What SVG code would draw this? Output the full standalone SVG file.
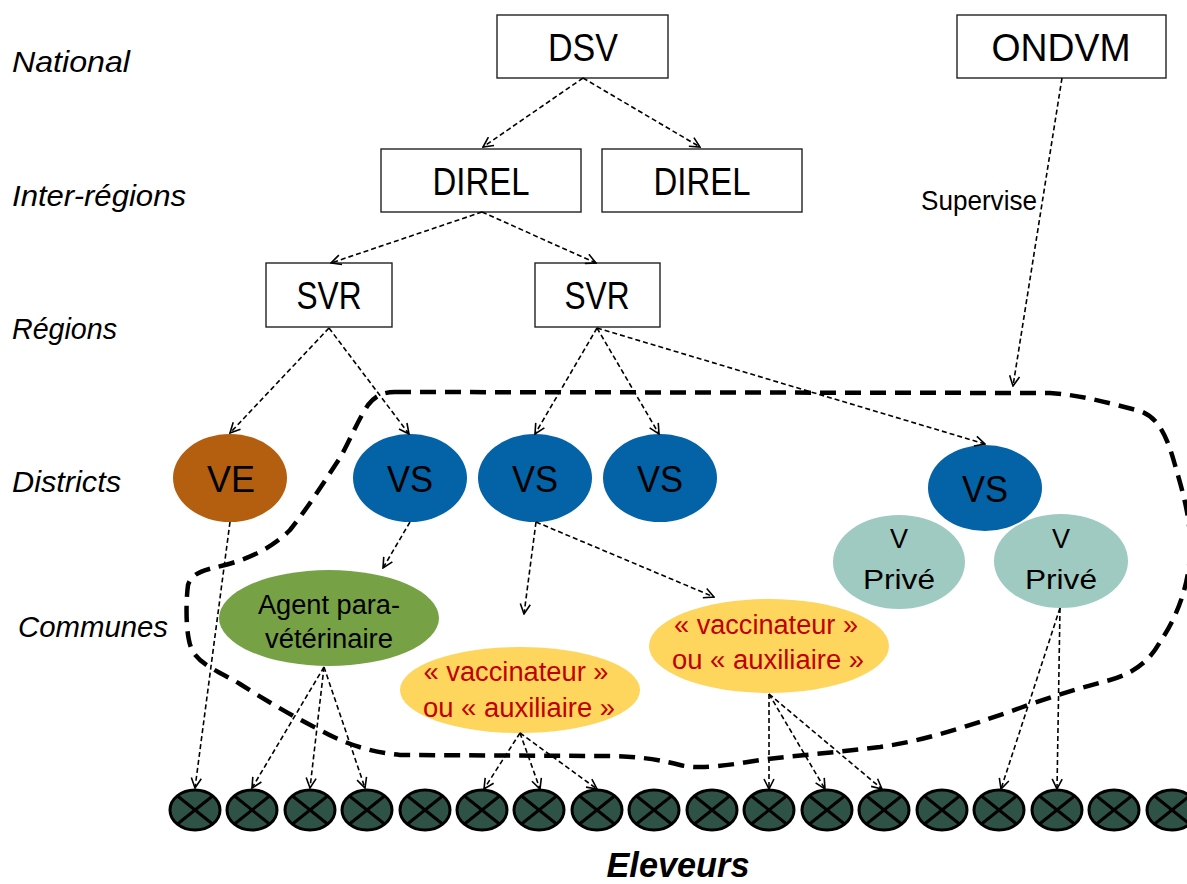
<svg xmlns="http://www.w3.org/2000/svg" xmlns:xlink="http://www.w3.org/1999/xlink" width="1187" height="884" viewBox="0 0 1187 884">
<style>
  .lbl { font-family: "Liberation Sans", Arial, sans-serif; font-style: italic; font-size: 30px; fill: #000; }
  .box { fill: #fff; stroke: #222; stroke-width: 1.4; }
  .bt { font-family: "Liberation Sans", Arial, sans-serif; font-size: 38px; fill: #000; text-anchor: middle; }
  .et { font-family: "Liberation Sans", Arial, sans-serif; font-size: 37px; fill: #000; text-anchor: middle; }
  .st { font-family: "Liberation Sans", Arial, sans-serif; font-size: 27px; fill: #000; text-anchor: middle; }
  .rt { font-family: "Liberation Sans", Arial, sans-serif; font-size: 27px; fill: #c00000; text-anchor: middle; }
  .conn line { stroke: #000; stroke-width: 1.6; stroke-dasharray: 5 3; fill: none; marker-end: url(#arr); }
  .bound { fill: none; stroke: #000; stroke-width: 4.5; stroke-dasharray: 16 9; }
</style>
<defs>
  <marker id="arr" viewBox="0 0 12 12" refX="11" refY="6" markerWidth="12" markerHeight="12" markerUnits="userSpaceOnUse" orient="auto">
    <path d="M1,1 L11,6 L1,11" fill="none" stroke="#000" stroke-width="1.6"/>
  </marker>
  <g id="farm">
    <ellipse cx="0" cy="0" rx="25" ry="20" fill="#2e5346" stroke="#000" stroke-width="3"/>
    <line x1="-17.5" y1="-14" x2="17.5" y2="14" stroke="#000" stroke-width="3"/>
    <line x1="-17.5" y1="14" x2="17.5" y2="-14" stroke="#000" stroke-width="3"/>
  </g>
</defs>
<rect width="1187" height="884" fill="#fff"/>

<g id="level-labels">
  <text class="lbl" x="12" y="72" textLength="118" lengthAdjust="spacingAndGlyphs">National</text>
  <text class="lbl" x="12" y="206" textLength="174" lengthAdjust="spacingAndGlyphs">Inter-régions</text>
  <text class="lbl" x="12" y="339" textLength="105" lengthAdjust="spacingAndGlyphs">Régions</text>
  <text class="lbl" x="12" y="492" textLength="109" lengthAdjust="spacingAndGlyphs">Districts</text>
  <text class="lbl" x="18" y="637" textLength="150" lengthAdjust="spacingAndGlyphs">Communes</text>
</g>

<g id="boundary">
  <path class="bound" d="M395,392 L1050,393 C1080,395 1105,402 1140,411 C1160,418 1168,440 1175,465 C1182,490 1192,520 1190,555 C1188,590 1175,620 1160,642 C1150,660 1135,673 1110,680 C1080,688 1050,697 1020,708 C980,722 930,740 880,747 C840,752 800,755 760,760 C730,765 700,770 680,765 C650,757 625,756 600,756 L400,755 C370,752 345,744 320,730 C290,715 262,698 240,684 C220,672 200,665 192,650 C185,635 186,600 188,585 C192,572 205,570 225,565 C255,557 275,545 290,530 C310,505 325,480 340,458 C350,440 358,420 368,405 C375,396 383,392 395,392 Z"/>
</g>

<g id="n-dsv"><rect class="box" x="497" y="15" width="171" height="63"/><text class="bt" x="583" y="61" textLength="70" lengthAdjust="spacingAndGlyphs">DSV</text></g>
<g id="n-ondvm"><rect class="box" x="957" y="15" width="209" height="63"/><text class="bt" x="1061" y="61" textLength="139" lengthAdjust="spacingAndGlyphs">ONDVM</text></g>
<g id="n-direl1"><rect class="box" x="381" y="149" width="200" height="63"/><text class="bt" x="481" y="195" textLength="97" lengthAdjust="spacingAndGlyphs">DIREL</text></g>
<g id="n-direl2"><rect class="box" x="602" y="149" width="200" height="63"/><text class="bt" x="702" y="195" textLength="97" lengthAdjust="spacingAndGlyphs">DIREL</text></g>
<g id="n-svr1"><rect class="box" x="266" y="263" width="126" height="64"/><text class="bt" x="329" y="309" textLength="65" lengthAdjust="spacingAndGlyphs">SVR</text></g>
<g id="n-svr2"><rect class="box" x="535" y="263" width="125" height="64"/><text class="bt" x="597" y="309" textLength="65" lengthAdjust="spacingAndGlyphs">SVR</text></g>

<g id="n-ve"><ellipse cx="230" cy="478" rx="57" ry="44" fill="#b45f10"/><text class="et" x="231" y="492" textLength="48" lengthAdjust="spacingAndGlyphs">VE</text></g>
<g id="n-vs1"><ellipse cx="410" cy="478" rx="57" ry="44" fill="#0462a6"/><text class="et" x="410" y="492" textLength="46" lengthAdjust="spacingAndGlyphs">VS</text></g>
<g id="n-vs2"><ellipse cx="535" cy="478" rx="57" ry="44" fill="#0462a6"/><text class="et" x="535" y="492" textLength="46" lengthAdjust="spacingAndGlyphs">VS</text></g>
<g id="n-vs3"><ellipse cx="660" cy="478" rx="57" ry="44" fill="#0462a6"/><text class="et" x="660" y="492" textLength="46" lengthAdjust="spacingAndGlyphs">VS</text></g>
<g id="n-vs4"><ellipse cx="985" cy="488" rx="57" ry="43" fill="#0462a6"/><text class="et" x="985" y="502" textLength="46" lengthAdjust="spacingAndGlyphs">VS</text></g>
<g id="n-vp1"><ellipse cx="899" cy="562" rx="66" ry="47" fill="#9ecac2"/><text class="st" x="899" y="548" font-size="31">V</text><text class="st" x="899" y="589" font-size="31" textLength="72" lengthAdjust="spacingAndGlyphs">Privé</text></g>
<g id="n-vp2"><ellipse cx="1061" cy="561" rx="67" ry="47" fill="#9ecac2"/><text class="st" x="1061" y="548" font-size="31">V</text><text class="st" x="1061" y="589" font-size="31" textLength="72" lengthAdjust="spacingAndGlyphs">Privé</text></g>
<g id="n-agent"><ellipse cx="329" cy="618" rx="110" ry="48" fill="#77a145"/><text class="st" x="329" y="614" textLength="142" lengthAdjust="spacingAndGlyphs">Agent para-</text><text class="st" x="329" y="648" textLength="128" lengthAdjust="spacingAndGlyphs">vétérinaire</text></g>
<g id="n-vacc1"><ellipse cx="520" cy="690" rx="120" ry="43" fill="#fed65e"/><text class="rt" x="516" y="681" textLength="185" lengthAdjust="spacingAndGlyphs">« vaccinateur »</text><text class="rt" x="519" y="717" textLength="192" lengthAdjust="spacingAndGlyphs">ou « auxiliaire »</text></g>
<g id="n-vacc2"><ellipse cx="769" cy="646" rx="120" ry="47" fill="#fed65e"/><text class="rt" x="766" y="634" textLength="184" lengthAdjust="spacingAndGlyphs">« vaccinateur »</text><text class="rt" x="768" y="669" textLength="192" lengthAdjust="spacingAndGlyphs">ou « auxiliaire »</text></g>

<g id="farms">
  <use xlink:href="#farm" href="#farm" x="195" y="810"/>
  <use xlink:href="#farm" href="#farm" x="252" y="810"/>
  <use xlink:href="#farm" href="#farm" x="310" y="810"/>
  <use xlink:href="#farm" href="#farm" x="367" y="810"/>
  <use xlink:href="#farm" href="#farm" x="425" y="810"/>
  <use xlink:href="#farm" href="#farm" x="482" y="810"/>
  <use xlink:href="#farm" href="#farm" x="539" y="810"/>
  <use xlink:href="#farm" href="#farm" x="597" y="810"/>
  <use xlink:href="#farm" href="#farm" x="654" y="810"/>
  <use xlink:href="#farm" href="#farm" x="712" y="810"/>
  <use xlink:href="#farm" href="#farm" x="769" y="810"/>
  <use xlink:href="#farm" href="#farm" x="827" y="810"/>
  <use xlink:href="#farm" href="#farm" x="884" y="810"/>
  <use xlink:href="#farm" href="#farm" x="942" y="810"/>
  <use xlink:href="#farm" href="#farm" x="999" y="810"/>
  <use xlink:href="#farm" href="#farm" x="1057" y="810"/>
  <use xlink:href="#farm" href="#farm" x="1114" y="810"/>
  <use xlink:href="#farm" href="#farm" x="1172" y="810"/>
</g>

<g id="connectors" class="conn">
  <line x1="583" y1="78" x2="483" y2="147"/>
  <line x1="583" y1="78" x2="700" y2="147"/>
  <line x1="482" y1="212" x2="331" y2="263"/>
  <line x1="482" y1="212" x2="596" y2="263"/>
  <line x1="329" y1="328" x2="230" y2="433"/>
  <line x1="329" y1="328" x2="409" y2="434"/>
  <line x1="597" y1="328" x2="535" y2="434"/>
  <line x1="597" y1="328" x2="659" y2="434"/>
  <line x1="597" y1="328" x2="985" y2="444"/>
  <line x1="1062" y1="78" x2="1013" y2="386"/>
  <line x1="230" y1="522" x2="195" y2="788"/>
  <line x1="410" y1="522" x2="383" y2="568"/>
  <line x1="536" y1="522" x2="524" y2="614"/>
  <line x1="536" y1="522" x2="714" y2="597"/>
  <line x1="324" y1="667" x2="252" y2="788"/>
  <line x1="324" y1="667" x2="310" y2="788"/>
  <line x1="324" y1="667" x2="365" y2="788"/>
  <line x1="520" y1="733" x2="484" y2="789"/>
  <line x1="520" y1="733" x2="540" y2="789"/>
  <line x1="520" y1="733" x2="597" y2="789"/>
  <line x1="769" y1="694" x2="769" y2="789"/>
  <line x1="769" y1="694" x2="825" y2="789"/>
  <line x1="769" y1="694" x2="882" y2="789"/>
  <line x1="1060" y1="608" x2="1001" y2="789"/>
  <line x1="1060" y1="608" x2="1057" y2="789"/>
</g>

<g id="edge-label">
  <text class="st" x="979" y="210" font-size="25" textLength="116" lengthAdjust="spacingAndGlyphs">Supervise</text>
</g>

<g id="footer">
  <text x="678" y="877" font-family="Liberation Sans, Arial, sans-serif" font-size="35" font-weight="bold" font-style="italic" text-anchor="middle" textLength="143" lengthAdjust="spacingAndGlyphs">Eleveurs</text>
</g>
</svg>
